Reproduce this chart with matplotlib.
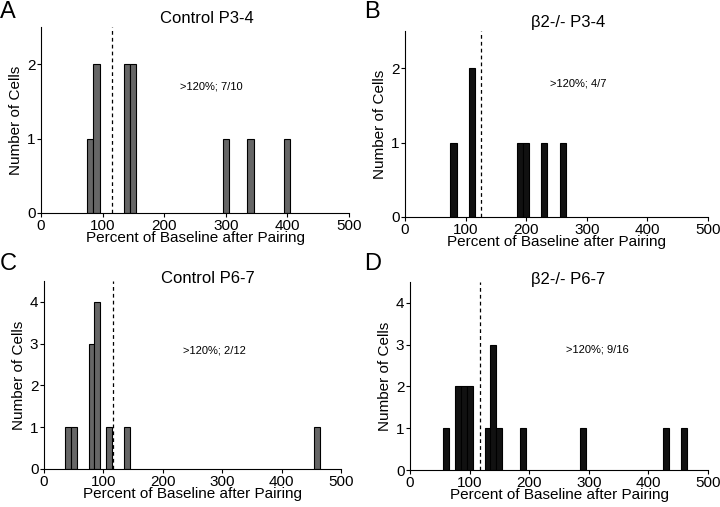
import numpy as np
import matplotlib
matplotlib.use("Agg")
from matplotlib import pyplot as plt

plt.rcParams['font.family'] = ['Liberation Sans', 'DejaVu Sans']

#### Dati (centri dei bin, larghezza 10%) ####
bin_width = 10
a_centers = [80, 90, 140, 150, 300, 340, 400]
a_counts = [1, 2, 2, 2, 1, 1, 1]
b_centers = [80, 110, 190, 200, 230, 260]
b_counts = [1, 2, 1, 1, 1, 1]
c_centers = [40, 50, 80, 90, 110, 140, 460]
c_counts = [1, 1, 3, 4, 1, 1, 1]
d_centers = [60, 80, 90, 100, 130, 140, 150, 190, 290, 430, 460]
d_counts = [1, 2, 2, 2, 1, 3, 1, 1, 1, 1, 1]

letters = ["A", "B", "C", "D"]
titles = ["Control P3-4", "\u03b22-/- P3-4", "Control P6-7", "\u03b22-/- P6-7"]
notes = [">120%; 7/10", ">120%; 4/7", ">120%; 2/12", ">120%; 9/16"]
soglia = [115, 125, 117, 117]
x_ticks = [0, 100, 200, 300, 400, 500]

fig = plt.figure(figsize=(7.2, 5.07), dpi=100)
W, H = 720.0, 507.0

# posizioni in pixel: sinistra, destra, alto, basso
boxes = [(41, 349, 27, 213), (405, 708, 31, 217),
         (44, 341, 281, 469), (410, 708, 282, 470)]
dati = [(a_centers, a_counts), (b_centers, b_counts),
        (c_centers, c_counts), (d_centers, d_counts)]
colori = ["#666666", "#111111", "#666666", "#111111"]
ymax = [2.5, 2.5, 4.5, 4.5]
yticks = [[0, 1, 2], [0, 1, 2], [0, 1, 2, 3, 4], [0, 1, 2, 3, 4]]
note_pos = [(277, 1.70), (286, 1.79), (287, 2.84), (314, 2.88)]
title_pos = [(269, 2.61), (270, 2.61), (276, 4.55), (266, 4.56)]
letter_pos = [(0, 12), (364, 12), (0, 264), (364, 264)]

for i in range(4):
    l, r, t, b = boxes[i]
    ax = fig.add_axes([l / W, 1 - b / H, (r - l) / W, (b - t) / H])
    centri, conte = dati[i]
    ax.bar(centri, conte, width=bin_width, color=colori[i],
           edgecolor="black", linewidth=0.8)
    ax.plot([soglia[i], soglia[i]], [0, ymax[i]], color="black",
            linestyle=(0, (3, 2.5)), linewidth=0.9)
    ax.set_xlim(0, 500)
    ax.set_ylim(0, ymax[i])
    ax.set_xticks(x_ticks)
    ax.set_yticks(yticks[i])
    ax.spines['top'].set_visible(False)
    ax.spines['right'].set_visible(False)
    ax.tick_params(labelsize=11, length=3, width=0.8, pad=1)
    ax.set_xlabel("Percent of Baseline after Pairing", fontsize=11, labelpad=-1)
    ax.set_ylabel("Number of Cells", fontsize=11, labelpad=3)
    ax.text(note_pos[i][0], note_pos[i][1], notes[i], fontsize=8,
            ha="center", va="center")
    ax.text(title_pos[i][0], title_pos[i][1], titles[i], fontsize=12,
            ha="center", va="center", clip_on=False)
    fig.text(letter_pos[i][0] / W, 1 - letter_pos[i][1] / H, letters[i],
             fontsize=17, ha="left", va="center")

plt.savefig("out.png", dpi=100)
